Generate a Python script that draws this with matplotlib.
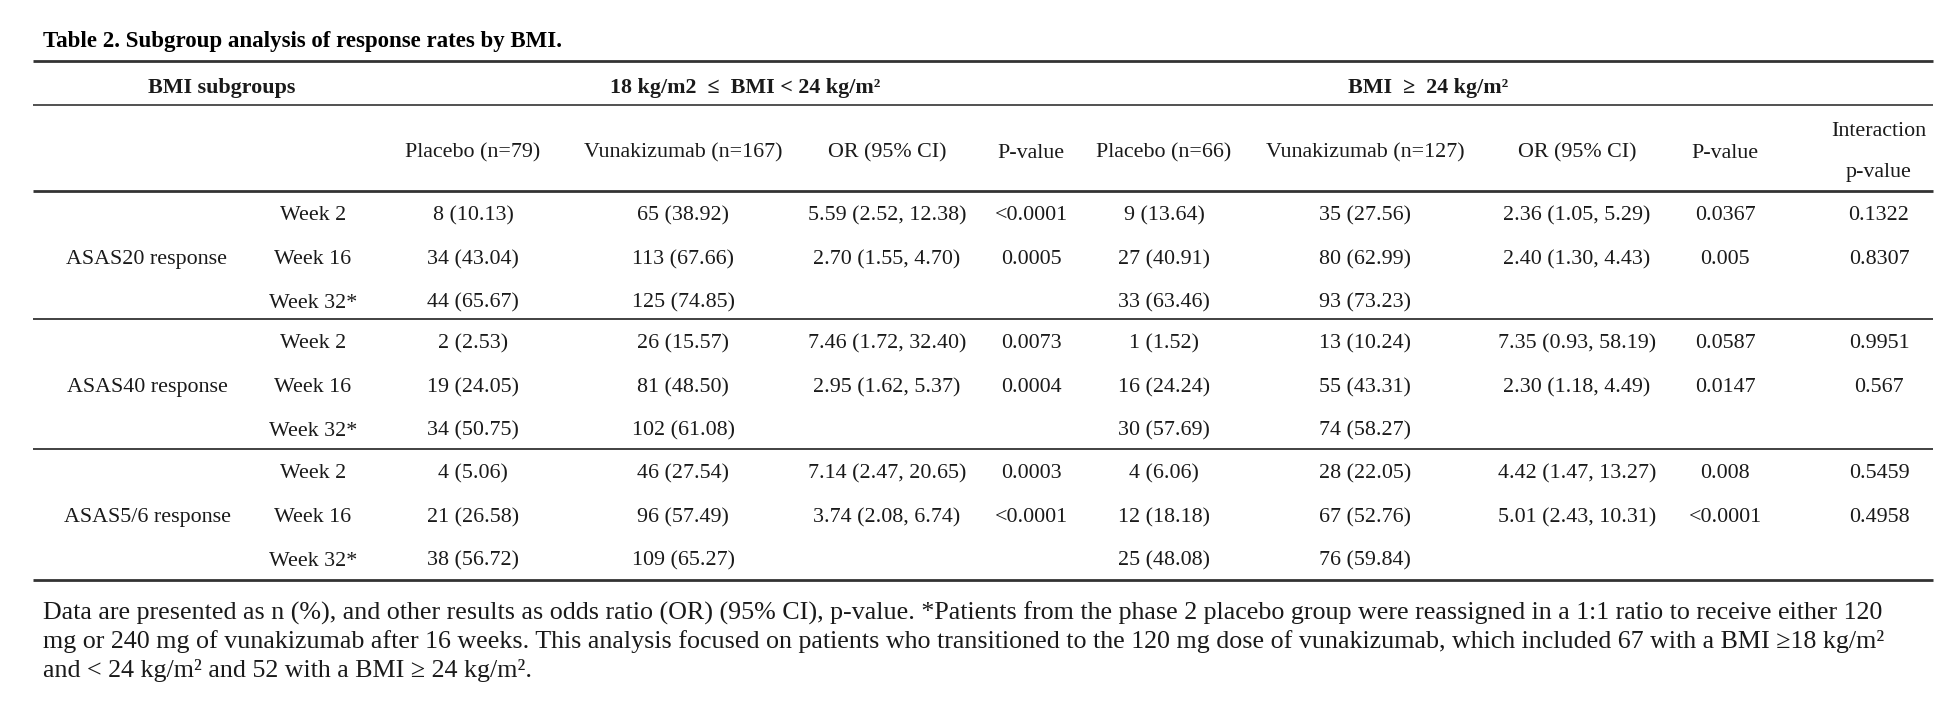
import matplotlib.pyplot as plt

plt.rcParams['font.family'] = ['Liberation Serif', 'DejaVu Serif']

title = 'Table 2. Subgroup analysis of response rates by BMI.'
group_headers = ['BMI subgroups', '18 kg/m2  \u2264  BMI < 24 kg/m\u00b2', 'BMI  \u2265  24 kg/m\u00b2']
col_headers = ['Placebo (n=79)', 'Vunakizumab (n=167)', 'OR (95% CI)', 'P-value',
               'Placebo (n=66)', 'Vunakizumab (n=127)', 'OR (95% CI)', 'P-value']
outcomes = ['ASAS20 response', 'ASAS40 response', 'ASAS5/6 response']
weeks = ['Week 2', 'Week 16', 'Week 32*']

placebo_low = ['8 (10.13)', '34 (43.04)', '44 (65.67)',
               '2 (2.53)', '19 (24.05)', '34 (50.75)',
               '4 (5.06)', '21 (26.58)', '38 (56.72)']
vuna_low = ['65 (38.92)', '113 (67.66)', '125 (74.85)',
            '26 (15.57)', '81 (48.50)', '102 (61.08)',
            '46 (27.54)', '96 (57.49)', '109 (65.27)']
or_low = ['5.59 (2.52, 12.38)', '2.70 (1.55, 4.70)', '',
          '7.46 (1.72, 32.40)', '2.95 (1.62, 5.37)', '',
          '7.14 (2.47, 20.65)', '3.74 (2.08, 6.74)', '']
p_low = ['<0.0001', '0.0005', '',
         '0.0073', '0.0004', '',
         '0.0003', '<0.0001', '']
placebo_high = ['9 (13.64)', '27 (40.91)', '33 (63.46)',
                '1 (1.52)', '16 (24.24)', '30 (57.69)',
                '4 (6.06)', '12 (18.18)', '25 (48.08)']
vuna_high = ['35 (27.56)', '80 (62.99)', '93 (73.23)',
             '13 (10.24)', '55 (43.31)', '74 (58.27)',
             '28 (22.05)', '67 (52.76)', '76 (59.84)']
or_high = ['2.36 (1.05, 5.29)', '2.40 (1.30, 4.43)', '',
           '7.35 (0.93, 58.19)', '2.30 (1.18, 4.49)', '',
           '4.42 (1.47, 13.27)', '5.01 (2.43, 10.31)', '']
p_high = ['0.0367', '0.005', '',
          '0.0587', '0.0147', '',
          '0.008', '<0.0001', '']
p_interaction = ['0.1322', '0.8307', '',
                 '0.9951', '0.567', '',
                 '0.5459', '0.4958', '']

footnote = [
    'Data are presented as n (%), and other results as odds ratio (OR) (95% CI), p-value. *Patients from the phase 2 placebo group were reassigned in a 1:1 ratio to receive either 120',
    'mg or 240 mg of vunakizumab after 16 weeks. This analysis focused on patients who transitioned to the 120 mg dose of vunakizumab, which included 67 with a BMI \u226518 kg/m\u00b2',
    'and < 24 kg/m\u00b2 and 52 with a BMI \u2265 24 kg/m\u00b2.',
]

# layout in pixel coords
W, H = 1950, 705
fig = plt.figure(figsize=(W / 100, H / 100), dpi=100)
ax = fig.add_axes([0, 0, 1, 1])
ax.set_xlim(0, W)
ax.set_ylim(H, 0)
ax.axis('off')

fs = 15.8
tc = '#1a1a1a'
dy = 3  # text centre vs bbox centre
x_out, x_week = 147, 313
col_x = [473, 683, 887, 1031, 1164, 1365, 1577, 1725]
x_inter = 1879
x0, x1 = 33, 1933

ax.text(43, 38 + dy, title, fontsize=16.5, fontweight='bold', va='center', ha='left', color='black')

# rules
for y, lw in [(61, 2.0), (105, 1.2), (191, 2.0), (319, 1.3), (449, 1.3), (580, 2.0)]:
    ax.plot([x0, x1], [y, y], color='#333333', lw=lw, solid_capstyle='butt')

# header row 1
ax.text(222, 85 + dy, group_headers[0], fontsize=fs, fontweight='bold', ha='center', va='center', color=tc)
ax.text(745, 85 + dy, group_headers[1], fontsize=fs, fontweight='bold', ha='center', va='center', color=tc)
ax.text(1428, 85 + dy, group_headers[2], fontsize=fs, fontweight='bold', ha='center', va='center', color=tc)

# header row 2
for x, lab in zip(col_x, col_headers):
    ax.text(x, 150 + dy, lab, fontsize=fs, ha='center', va='center', color=tc)
ax.text(x_inter, 128 + dy, 'Interaction', fontsize=fs, ha='center', va='center', color=tc)
ax.text(x_inter, 170 + dy, 'p-value', fontsize=fs, ha='center', va='center', color=tc)

# body
columns = [placebo_low, vuna_low, or_low, p_low, placebo_high, vuna_high, or_high, p_high]
block_tops = [191, 319, 449]
for b, outcome in enumerate(outcomes):
    ys = [block_tops[b] + 22 + dy + 43.5 * i for i in range(3)]
    ax.text(x_out, ys[1], outcome, fontsize=fs, ha='center', va='center', color=tc)
    for i, wk in enumerate(weeks):
        r = b * 3 + i
        ax.text(x_week, ys[i], wk, fontsize=fs, ha='center', va='center', color=tc)
        for x, col in zip(col_x, columns):
            ax.text(x, ys[i], col[r], fontsize=fs, ha='center', va='center', color=tc)
        ax.text(x_inter, ys[i], p_interaction[r], fontsize=fs, ha='center', va='center', color=tc)

for i, line in enumerate(footnote):
    ax.text(43, 610 + dy + 28.5 * i, line, fontsize=18.7, ha='left', va='center', color=tc)

fig.savefig('out.png', dpi=100, facecolor='white')
